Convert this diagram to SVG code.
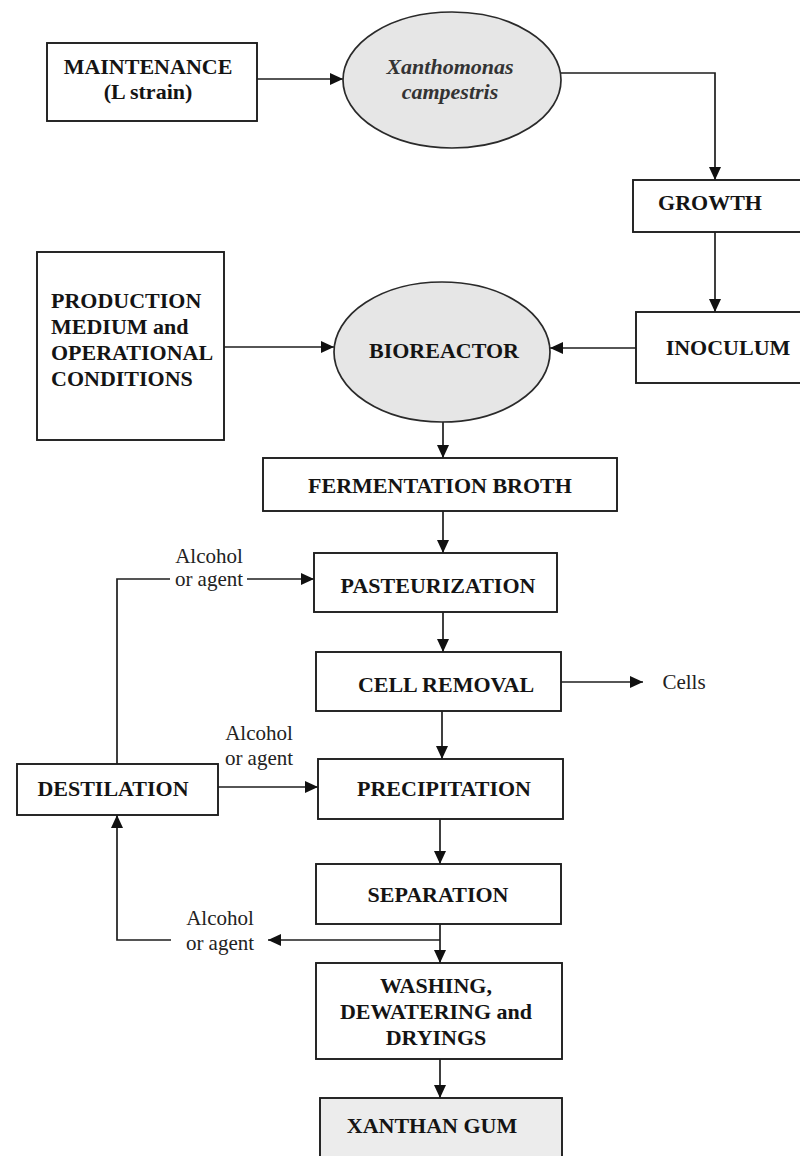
<svg xmlns="http://www.w3.org/2000/svg" width="800" height="1156" viewBox="0 0 800 1156">
<defs>
<marker id="ah" markerWidth="13" markerHeight="12" refX="13" refY="6" orient="auto" markerUnits="userSpaceOnUse">
<path d="M0,0 L13,6 L0,12 z" fill="#111"/>
</marker>
<style>
.box{fill:#ffffff;stroke:#1e1e1e;stroke-width:1.9}
.ell{fill:#e6e6e6;stroke:#2a2a2a;stroke-width:1.7}
.grey{fill:#ececec;stroke:#1e1e1e;stroke-width:1.9}
.t{font-family:"Liberation Serif","Times New Roman",serif;font-size:22px;font-weight:bold;fill:#141414;text-anchor:middle}
.tl{font-family:"Liberation Serif","Times New Roman",serif;font-size:22px;font-weight:bold;fill:#141414}
.ti{font-family:"Liberation Serif","Times New Roman",serif;font-size:22px;font-weight:bold;font-style:italic;fill:#333;text-anchor:middle}
.lab{font-family:"Liberation Serif","Times New Roman",serif;font-size:21px;fill:#222;text-anchor:middle}
.c{fill:none;stroke:#1e1e1e;stroke-width:1.7}
</style>
</defs>
<rect width="800" height="1156" fill="#ffffff"/>
<g id="connectors">
<path class="c" d="M257,79 L343,79" marker-end="url(#ah)"/>
<path class="c" d="M560,73 L715,73 L715,180" marker-end="url(#ah)"/>
<path class="c" d="M715,232 L715,312" marker-end="url(#ah)"/>
<path class="c" d="M636,348 L550,348" marker-end="url(#ah)"/>
<path class="c" d="M224,347 L334,347" marker-end="url(#ah)"/>
<path class="c" d="M443,422 L443,458" marker-end="url(#ah)"/>
<path class="c" d="M443,511 L443,553" marker-end="url(#ah)"/>
<path class="c" d="M443,612 L443,652" marker-end="url(#ah)"/>
<path class="c" d="M561,682 L643,682" marker-end="url(#ah)"/>
<path class="c" d="M442,711 L442,759" marker-end="url(#ah)"/>
<path class="c" d="M218,787 L318,787" marker-end="url(#ah)"/>
<path class="c" d="M117,764 L117,579 L170,579"/>
<path class="c" d="M247,579 L314,579" marker-end="url(#ah)"/>
<path class="c" d="M440,819 L440,864" marker-end="url(#ah)"/>
<path class="c" d="M440,924 L440,963" marker-end="url(#ah)"/>
<path class="c" d="M440,940 L268,940" marker-end="url(#ah)"/>
<path class="c" d="M171,940 L117,940 L117,815" marker-end="url(#ah)"/>
<path class="c" d="M440,1059 L440,1098" marker-end="url(#ah)"/>
<text class="lab" x="209" y="563">Alcohol</text>
<text class="lab" x="209" y="586">or agent</text>
<text class="lab" x="259" y="740">Alcohol</text>
<text class="lab" x="259" y="765">or agent</text>
<text class="lab" x="220" y="925">Alcohol</text>
<text class="lab" x="220" y="950">or agent</text>
<text class="lab" x="684" y="689">Cells</text>
</g>
<g id="maintenance">
<rect class="box" x="47" y="43" width="210" height="78"/>
<text class="t" x="148" y="74">MAINTENANCE</text>
<text class="t" x="148" y="99">(L strain)</text>
</g>
<g id="xanthomonas">
<ellipse class="ell" cx="452" cy="80" rx="109" ry="68"/>
<text class="ti" x="450" y="74">Xanthomonas</text>
<text class="ti" x="450" y="99">campestris</text>
</g>
<g id="growth">
<rect class="box" x="633" y="180" width="172" height="52"/>
<text class="t" x="710" y="210">GROWTH</text>
</g>
<g id="inoculum">
<rect class="box" x="636" y="312" width="172" height="71"/>
<text class="t" x="728" y="355">INOCULUM</text>
</g>
<g id="production">
<rect class="box" x="37" y="252" width="187" height="188"/>
<text class="tl" x="51" y="308">PRODUCTION</text>
<text class="tl" x="51" y="334">MEDIUM and</text>
<text class="tl" x="51" y="360">OPERATIONAL</text>
<text class="tl" x="51" y="386">CONDITIONS</text>
</g>
<g id="bioreactor">
<ellipse class="ell" cx="442" cy="352" rx="108" ry="70"/>
<text class="t" x="444" y="358">BIOREACTOR</text>
</g>
<g id="fermentation">
<rect class="box" x="263" y="458" width="354" height="53"/>
<text class="t" x="440" y="493">FERMENTATION BROTH</text>
</g>
<g id="pasteurization">
<rect class="box" x="314" y="553" width="243" height="59"/>
<text class="t" x="438" y="593">PASTEURIZATION</text>
</g>
<g id="cellremoval">
<rect class="box" x="316" y="652" width="245" height="59"/>
<text class="t" x="446" y="692">CELL REMOVAL</text>
</g>
<g id="precipitation">
<rect class="box" x="318" y="759" width="245" height="60"/>
<text class="t" x="444" y="796">PRECIPITATION</text>
</g>
<g id="destilation">
<rect class="box" x="17" y="764" width="201" height="51"/>
<text class="t" x="113" y="796">DESTILATION</text>
</g>
<g id="separation">
<rect class="box" x="316" y="864" width="245" height="60"/>
<text class="t" x="438" y="902">SEPARATION</text>
</g>
<g id="washing">
<rect class="box" x="316" y="963" width="246" height="96"/>
<text class="t" x="436" y="993">WASHING,</text>
<text class="t" x="436" y="1019">DEWATERING and</text>
<text class="t" x="436" y="1045">DRYINGS</text>
</g>
<g id="xanthangum">
<rect class="grey" x="320" y="1098" width="242" height="64"/>
<text class="t" x="432" y="1133">XANTHAN GUM</text>
</g>
</svg>
